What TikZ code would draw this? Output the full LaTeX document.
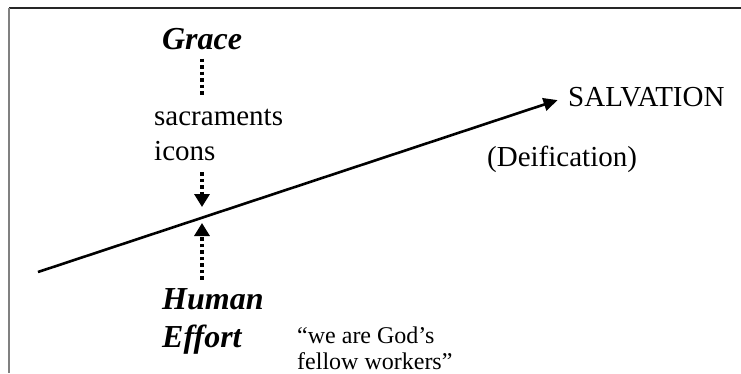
\documentclass[tikz,border=0pt]{standalone}
\usepackage{fontspec}
\setmainfont{Liberation Serif}
\usetikzlibrary{arrows.meta}

\begin{document}
\begin{tikzpicture}[
  x=1pt, y=-1pt,
  every node/.style={inner sep=0pt, align=left},
  bigword/.style={font=\fontsize{32}{38}\selectfont\bfseries\itshape},
  plain/.style={font=\fontsize{29}{35}\selectfont},
  small/.style={font=\fontsize{24}{26}\selectfont},
  dotline/.style={line width=3.5pt, dash pattern=on 3.5pt off 3pt},
  dotarrow/.style={dotline, -{Triangle[length=13pt,width=15pt]}}
]
\useasboundingbox (0,0) rectangle (741,373);

% ── frame: only top and left edges ─────────────────────────────
\draw[line width=1.5pt, black!85] (9,8) -- (741,8);
\draw[line width=2pt, gray] (9,8) -- (9,373);

% ── the rising road ────────────────────────────────────────────
\node[plain, anchor=base west] (salv) at (568,106) {SALVATION};
\node[plain, anchor=base west] (deif) at (487,166) {(Deification)};
\coordinate (start) at (38,272);
\coordinate (meet) at (202,216);
\draw[line width=2.6pt, -{Triangle[length=14pt,width=13pt]}, shorten >=11pt]
  (start) -- (salv.west);

% ── from above ─────────────────────────────────────────────────
\node[bigword, anchor=base] (grace) at (202,49) {Grace};
\node[plain, anchor=base west] (means) at (154,160) {sacraments\\icons};
\draw[dotline, shorten <=9pt, shorten >=11pt]
  (grace.south) -- (means.north -| grace.south);
\draw[dotarrow, shorten <=12pt, shorten >=9pt]
  (means.south -| meet) -- (meet);

% ── from below ─────────────────────────────────────────────────
\node[bigword, anchor=base west] (human) at (162,347) {Human\\Effort};
\node[small, anchor=base west] (quote) at (297,369)
  {``we are God's\\fellow workers''};
\draw[dotarrow, shorten <=8pt, shorten >=7pt]
  (human.north -| meet) -- (meet);

\end{tikzpicture}
\end{document}
